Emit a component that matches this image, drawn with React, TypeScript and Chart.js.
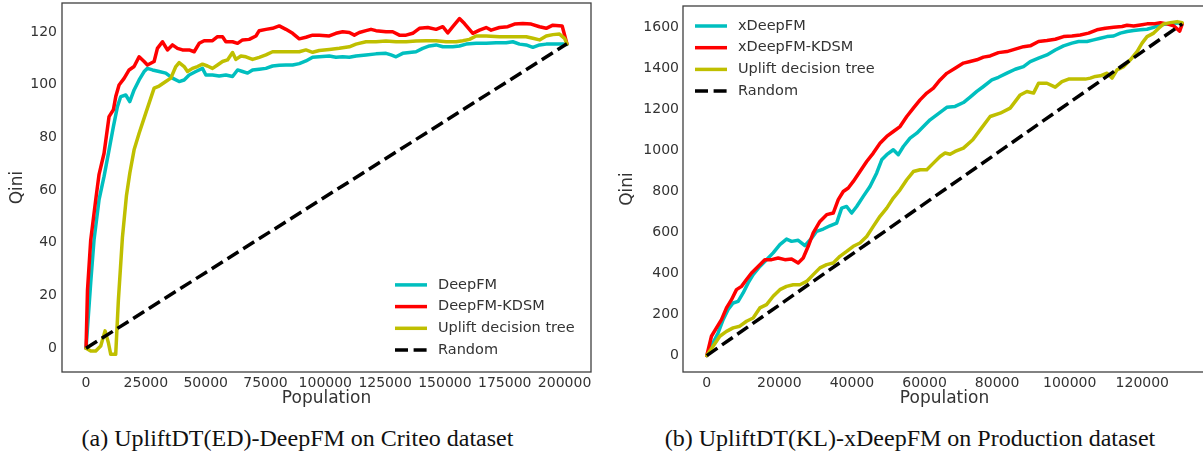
import React, { useEffect, useRef } from "react";
import { Chart, registerables } from "chart.js";

Chart.register(...registerables);

type Pt = [number, number];

// ---------- Panel (a): UpliftDT(ED)-DeepFM on Criteo ----------
const criteoDeepFM: Pt[] = [
  [0, 0], [1950, 24.9], [3350, 41.3], [5440, 56.4], [7530, 65.2], [9620, 75.3], [11430, 84.1], [13110, 91.7],
  [14510, 95.5], [16600, 96.1], [18270, 93.6], [20080, 98.0], [22180, 101.8], [24270, 105.0], [25660, 106.2],
  [27750, 105.6], [30540, 105.0], [33330, 104.4], [36110, 102.5], [38910, 101.2], [41000, 101.8], [43100, 103.7],
  [45890, 105.0], [48660, 106.2], [50080, 103.7], [52860, 103.7], [55650, 103.3], [58440, 103.7], [61230, 103.1],
  [63320, 105.6], [65410, 105.0], [67500, 104.4], [69590, 105.6], [72380, 105.9], [75180, 106.2], [77960, 107.1],
  [80750, 107.4], [83550, 107.5], [86340, 107.5], [89120, 108.0], [91910, 109.0], [94700, 110.4], [97490, 110.6],
  [101670, 110.9], [104460, 110.4], [107250, 110.6], [110040, 110.4], [112830, 110.9], [117010, 111.3],
  [121190, 111.7], [125370, 111.9], [127460, 111.3], [129550, 110.6], [132350, 111.9], [135140, 112.2],
  [137920, 112.5], [140710, 113.8], [143510, 114.7], [146310, 115.1], [149100, 114.4], [153280, 114.4],
  [156070, 114.7], [158860, 115.4], [163040, 115.7], [167220, 115.7], [171420, 115.9], [175600, 115.9],
  [178380, 116.3], [181170, 115.4], [183960, 115.1], [186740, 114.2], [189540, 115.1], [192340, 115.4],
  [196520, 115.4], [199290, 115.4], [201000, 115.3],
];
const criteoDeepFMKDSM: Pt[] = [
  [0, 0], [600, 22], [1950, 41], [4050, 56.4], [5440, 66], [7530, 74], [9620, 87.9], [11430, 90.5], [12420, 95.5],
  [13800, 99.9], [15900, 102.4], [18000, 105.6], [20080, 106.9], [22180, 110.6], [24270, 108.8], [25660, 107.5],
  [28450, 108.8], [29830, 113.8], [31930, 116.3], [34020, 113.2], [36110, 115.1], [38200, 113.8], [40290, 113.2],
  [43100, 113.2], [45190, 112.5], [47280, 115.7], [49370, 116.7], [52860, 116.7], [54950, 118.2], [57040, 118.2],
  [58440, 116.3], [61230, 116.3], [63320, 115.7], [65410, 117.0], [68200, 117.2], [71000, 118.5], [72380, 120.5],
  [75180, 121.0], [77960, 121.4], [80750, 122.3], [83550, 121.0], [86340, 119.5], [89120, 117.4], [91910, 118.0],
  [94700, 118.8], [97490, 118.8], [101670, 118.5], [104460, 119.5], [107250, 120.1], [110040, 119.8],
  [112130, 118.8], [114220, 119.8], [117010, 120.5], [119100, 121.0], [121190, 120.5], [125370, 120.1],
  [128170, 120.1], [130960, 118.8], [133750, 118.8], [136540, 119.5], [139330, 121.4], [142820, 121.7],
  [146310, 121.0], [149100, 122.0], [151190, 119.7], [153280, 122.0], [156070, 125.1], [158160, 123.2],
  [161650, 119.5], [164430, 120.7], [167220, 121.7], [169310, 120.7], [172800, 121.7], [176270, 122.0],
  [179080, 123.0], [182550, 123.2], [186060, 123.0], [189540, 122.0], [192340, 121.4], [195100, 122.6],
  [199000, 122.3], [201000, 115.5],
];
const criteoUpliftDT: Pt[] = [
  [0, 0], [1950, -1.0], [4050, -1.0], [6140, 0.9], [7950, 6.6], [9340, 2.1], [10320, -2.3], [12400, -2.3],
  [13500, 18], [15200, 42], [16900, 58], [18300, 66.5], [20080, 75.3], [22180, 81.6], [24960, 89.2],
  [28450, 98.7], [30540, 99.5], [33330, 101.2], [35430, 102.5], [37520, 106.9], [38910, 108.4], [41000, 106.9],
  [42400, 105.0], [44480, 106.2], [46570, 106.9], [48660, 107.8], [50750, 107.1], [52860, 106.2], [54950, 107.5],
  [57040, 108.8], [59120, 109.4], [61230, 112.2], [62630, 109.6], [64730, 110.9], [66820, 110.6], [69590, 109.6],
  [72380, 110.4], [75180, 111.3], [77960, 112.5], [83550, 112.5], [89120, 112.5], [91910, 113.2], [94700, 112.3],
  [97490, 113.0], [101670, 113.4], [105850, 113.8], [110040, 114.4], [112830, 115.4], [117010, 116.3],
  [121190, 116.3], [125370, 116.6], [129550, 116.3], [133750, 116.3], [137920, 116.6], [142100, 116.7],
  [146310, 116.7], [150490, 116.3], [154670, 116.3], [157460, 116.7], [160250, 117.2], [163040, 118.5],
  [167220, 118.5], [172800, 118.2], [178380, 118.2], [183960, 118.2], [186740, 117.6], [189540, 117.0],
  [192340, 118.5], [195100, 119.0], [197900, 119.2], [200000, 117.6], [201000, 115.5],
];
const criteoRandom: Pt[] = [[0, 0], [201000, 115.5]];
const criteoXTicks = [0, 25000, 50000, 75000, 100000, 125000, 150000, 175000, 200000];
const criteoYTicks = [0, 20, 40, 60, 80, 100, 120];
const criteoNames = ["DeepFM", "DeepFM-KDSM", "Uplift decision tree", "Random"];

// ---------- Panel (b): UpliftDT(KL)-xDeepFM on Production ----------
const prodXDeepFM: Pt[] = [
  [0, 0], [1740, 62], [3120, 110], [4500, 175], [5880, 224], [7260, 256], [8640, 264], [10020, 305], [11400, 354],
  [12780, 394], [14620, 434], [16470, 467], [18290, 500], [20140, 540], [21980, 567], [23370, 556], [25190, 561],
  [27040, 535], [28890, 572], [30270, 605], [32090, 616], [33940, 632], [35780, 645], [37160, 718], [38540, 726],
  [39920, 694], [41300, 726], [43120, 775], [44970, 823], [46820, 889], [48200, 953], [49580, 978], [51400, 1002],
  [52780, 978], [54160, 1018], [56010, 1059], [57860, 1083], [59680, 1115], [61530, 1148], [63370, 1172],
  [65200, 1196], [66130, 1209], [68420, 1213], [70710, 1232], [72560, 1258], [74410, 1286], [76230, 1310],
  [78550, 1342], [80370, 1355], [82690, 1375], [84980, 1394], [87270, 1407], [89120, 1431], [91410, 1448],
  [93720, 1464], [96010, 1488], [98300, 1508], [100620, 1521], [102440, 1529], [104760, 1529], [106580, 1537],
  [108430, 1545], [110280, 1553], [112100, 1556], [113950, 1570], [115800, 1578], [117620, 1583], [119470, 1586],
  [121310, 1589], [123140, 1598], [124990, 1610], [126830, 1615], [128650, 1618], [130500, 1621], [131000, 1615],
];
const prodXDeepFMKDSM: Pt[] = [
  [0, 0], [1290, 94], [2670, 135], [4050, 175], [5430, 232], [6810, 272], [8190, 321], [9570, 337], [10950, 370],
  [12330, 402], [14150, 434], [16000, 467], [17850, 467], [19670, 475], [21520, 467], [23370, 470], [25190, 451],
  [26570, 475], [27950, 532], [29330, 597], [31180, 653], [33030, 686], [34850, 694], [36230, 759], [37610, 799],
  [38990, 816], [40370, 848], [42210, 896], [44060, 945], [45880, 986], [47730, 1034], [49580, 1067],
  [51400, 1091], [53250, 1115], [55100, 1164], [56920, 1205], [58770, 1245], [60620, 1278], [62440, 1302],
  [64280, 1342], [66130, 1374], [68420, 1399], [70710, 1424], [72560, 1432], [74410, 1440], [76230, 1453],
  [78070, 1459], [80370, 1475], [82690, 1480], [84980, 1492], [87270, 1504], [89120, 1508], [91410, 1529],
  [93720, 1534], [96010, 1540], [98300, 1553], [100620, 1556], [102900, 1561], [105200, 1570], [107510, 1586],
  [109810, 1594], [112100, 1598], [114410, 1602], [115800, 1608], [117620, 1605], [119470, 1610], [121310, 1615],
  [123140, 1615], [124990, 1621], [126830, 1615], [128650, 1605], [130300, 1580], [131000, 1615],
];
const prodUpliftDT: Pt[] = [
  [0, 0], [1740, 45], [3590, 94], [5430, 118], [7260, 135], [9100, 143], [10950, 167], [12780, 183], [14620, 232],
  [16470, 248], [18290, 289], [20140, 321], [21980, 337], [23810, 345], [25660, 345], [27510, 361], [29330, 394],
  [31180, 427], [33030, 443], [34850, 451], [36690, 483], [38540, 507], [40370, 532], [42210, 548], [44060, 580],
  [45880, 629], [47730, 678], [49580, 718], [51400, 767], [53250, 807], [55100, 856], [56920, 896], [58770, 905],
  [60620, 905], [62440, 937], [64280, 969], [65660, 986], [67040, 980], [68420, 994], [70710, 1010],
  [73300, 1051], [75320, 1099], [78080, 1164], [80840, 1180], [83600, 1205], [86360, 1269], [88200, 1286],
  [90030, 1278], [91410, 1326], [93720, 1326], [96010, 1307], [97860, 1334], [99680, 1346], [102000, 1346],
  [104290, 1346], [105670, 1351], [107050, 1359], [108430, 1362], [110280, 1375], [111660, 1351], [113040, 1391],
  [114860, 1407], [116710, 1440], [118560, 1480], [119940, 1521], [121310, 1553], [123140, 1570], [124520, 1594],
  [125890, 1615], [127740, 1621], [129580, 1626], [131000, 1621],
];
const prodRandom: Pt[] = [[0, 0], [131000, 1615]];
const prodXTicks = [0, 20000, 40000, 60000, 80000, 100000, 120000];
const prodYTicks = [0, 200, 400, 600, 800, 1000, 1200, 1400, 1600];
const prodNames = ["xDeepFM", "xDeepFM-KDSM", "Uplift decision tree", "Random"];

const captionA = "(a) UpliftDT(ED)-DeepFM on Criteo dataset";
const captionB = "(b) UpliftDT(KL)-xDeepFM on Production dataset";

// ---------- styling ----------
const FONT = "'DejaVu Sans', sans-serif";
const INK = "#333333";
const COLORS = ["#00bfbf", "#ff0000", "#bfbf00", "#000000"];
const DASHES: number[][] = [[], [], [], [13, 5.6]];
const DRAW_ORDER = [3, 2, 1, 0];

const framePlugin = {
  id: "frame",
  afterDatasetsDraw(chart: any) {
    const { ctx, chartArea: a } = chart;
    ctx.save();
    ctx.strokeStyle = "#3f3f3f";
    ctx.lineWidth = 1.3;
    ctx.strokeRect(a.left, a.top, a.right - a.left, a.bottom - a.top);
    ctx.restore();
  },
};

const legendPlugin = {
  id: "qiniLegend",
  afterDraw(chart: any, _args: any, opts: any) {
    const { ctx, chartArea: a } = chart;
    const sets = chart.data.datasets;
    const rowH = 21.7;
    const x0 = opts.anchor === "lower right" ? a.right - 196 : a.left + 12;
    const y0 = opts.anchor === "lower right" ? a.bottom - 22 - rowH * (sets.length - 1) : a.top + 20;
    ctx.save();
    ctx.font = `14.5px ${FONT}`;
    ctx.textBaseline = "middle";
    ctx.textAlign = "left";
    sets.forEach((ds: any, i: number) => {
      const y = y0 + i * rowH;
      ctx.beginPath();
      ctx.setLineDash(ds.borderDash || []);
      ctx.strokeStyle = ds.borderColor;
      ctx.lineWidth = ds.borderWidth;
      ctx.moveTo(x0, y);
      ctx.lineTo(x0 + 32, y);
      ctx.stroke();
      ctx.setLineDash([]);
      ctx.fillStyle = INK;
      ctx.fillText(ds.label, x0 + 43, y);
    });
    ctx.restore();
  },
};

type Geom = {
  yAxisWidth: number;
  padTop: number;
  padRight: number;
  xAxisHeight: number;
  yTitlePad: number;
  yTickPad: number;
};

function zeroPadding(s: any) {
  s.paddingTop = 0;
  s.paddingBottom = 0;
  s.paddingLeft = 0;
  s.paddingRight = 0;
}

function buildConfig(
  series: Pt[][],
  names: string[],
  xTicks: number[],
  yTicks: number[],
  xRange: [number, number],
  yRange: [number, number],
  geom: Geom,
  anchor: string
): any {
  return {
    type: "line",
    data: {
      datasets: series.map((s, i) => ({
        label: names[i],
        data: s.map(([x, y]) => ({ x, y })),
        borderColor: COLORS[i],
        backgroundColor: COLORS[i],
        borderWidth: 3.5,
        borderDash: DASHES[i],
        borderJoinStyle: "round",
        borderCapStyle: i === 3 ? "butt" : "round",
        pointRadius: 0,
        tension: 0,
        fill: false,
        order: DRAW_ORDER[i],
      })),
    },
    options: {
      animation: false,
      responsive: false,
      devicePixelRatio: 1,
      layout: { padding: { left: 0, right: geom.padRight, top: geom.padTop, bottom: 0 } },
      plugins: {
        legend: { display: false },
        tooltip: { enabled: false },
        qiniLegend: { anchor },
      },
      scales: {
        x: {
          type: "linear",
          min: xRange[0],
          max: xRange[1],
          grid: { display: false, drawTicks: false },
          border: { display: false },
          afterBuildTicks: (s: any) => {
            s.ticks = xTicks.map((v) => ({ value: v }));
          },
          afterFit: (s: any) => {
            s.height = geom.xAxisHeight;
            zeroPadding(s);
          },
          ticks: {
            autoSkip: false,
            maxRotation: 0,
            minRotation: 0,
            padding: 3,
            color: INK,
            font: { family: FONT, size: 14 },
            callback: (v: any) => String(v),
          },
          title: {
            display: true,
            text: "Population",
            color: INK,
            font: { family: FONT, size: 17 },
            padding: { top: 0, bottom: 10.8 },
          },
        },
        y: {
          type: "linear",
          min: yRange[0],
          max: yRange[1],
          grid: { display: false, drawTicks: false },
          border: { display: false },
          afterBuildTicks: (s: any) => {
            s.ticks = yTicks.map((v) => ({ value: v }));
          },
          afterFit: (s: any) => {
            s.width = geom.yAxisWidth;
            zeroPadding(s);
          },
          ticks: {
            autoSkip: false,
            padding: geom.yTickPad,
            color: INK,
            font: { family: FONT, size: 14 },
            callback: (v: any) => String(v),
          },
          title: {
            display: true,
            text: "Qini",
            color: INK,
            font: { family: FONT, size: 17 },
            padding: { top: geom.yTitlePad, bottom: 0 },
          },
        },
      },
    },
    plugins: [framePlugin, legendPlugin],
  };
}

const captionStyle: React.CSSProperties = {
  position: "absolute",
  top: 426,
  fontFamily: "'Liberation Serif', 'Times New Roman', serif",
  fontSize: 24,
  lineHeight: "24px",
  color: "#111",
  textAlign: "center",
  whiteSpace: "nowrap",
};

export default function App() {
  const refA = useRef<HTMLCanvasElement | null>(null);
  const refB = useRef<HTMLCanvasElement | null>(null);

  useEffect(() => {
    const a = new Chart(
      refA.current as HTMLCanvasElement,
      buildConfig(
        [criteoDeepFM, criteoDeepFMKDSM, criteoUpliftDT, criteoRandom],
        criteoNames,
        criteoXTicks,
        criteoYTicks,
        [-10050, 211050],
        [-9, 131],
        { yAxisWidth: 62, padTop: 3, padRight: 9, xAxisHeight: 48, yTitlePad: 7.8, yTickPad: 5 },
        "lower right"
      )
    );
    const b = new Chart(
      refB.current as HTMLCanvasElement,
      buildConfig(
        [prodXDeepFM, prodXDeepFMKDSM, prodUpliftDT, prodRandom],
        prodNames,
        prodXTicks,
        prodYTicks,
        [-6550, 137550],
        [-80, 1702],
        { yAxisWidth: 83, padTop: 6, padRight: 9, xAxisHeight: 48, yTitlePad: 17.8, yTickPad: 4 },
        "upper left"
      )
    );
    return () => {
      a.destroy();
      b.destroy();
    };
  }, []);

  return (
    <div
      style={{
        position: "absolute",
        left: 0,
        top: 0,
        width: 1203,
        height: 455,
        overflow: "hidden",
        background: "#ffffff",
      }}
    >
      <canvas
        ref={refA}
        width={600}
        height={420}
        style={{ position: "absolute", left: 0, top: 0, width: 600, height: 420 }}
      />
      <canvas
        ref={refB}
        width={615}
        height={420}
        style={{ position: "absolute", left: 600, top: 0, width: 615, height: 420 }}
      />
      <div style={{ ...captionStyle, left: 0, width: 595 }}>{captionA}</div>
      <div style={{ ...captionStyle, left: 610, width: 600 }}>{captionB}</div>
    </div>
  );
}
